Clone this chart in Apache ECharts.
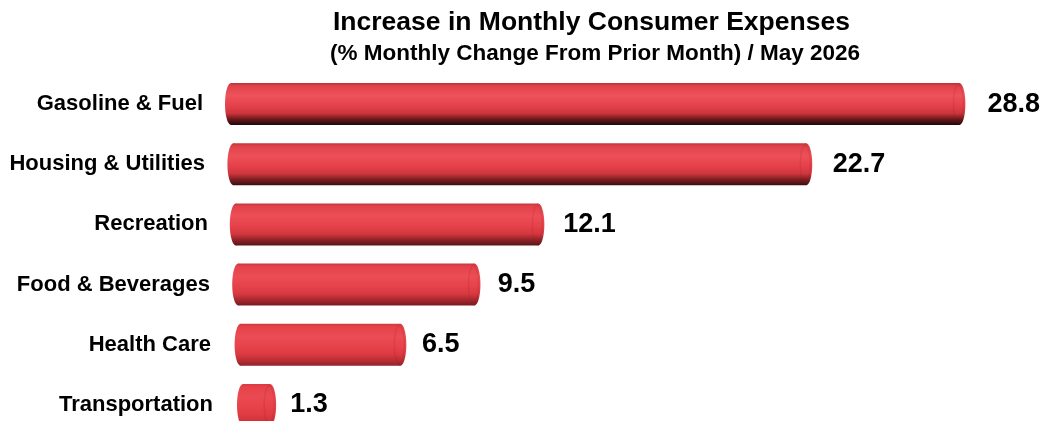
<!DOCTYPE html>
<html>
<head>
<meta charset="utf-8">
<script src="https://cdn.jsdelivr.net/npm/echarts@6/dist/echarts.min.js"></script>
<style>
html,body{margin:0;padding:0;background:#fff;}
#chart{width:1047px;height:421px;}
</style>
</head>
<body>
<div id="chart"></div>
<script>
var categories = ['Gasoline & Fuel', 'Housing & Utilities', 'Recreation', 'Food & Beverages', 'Health Care', 'Transportation'];
var values = [28.8, 22.7, 12.1, 9.5, 6.5, 1.3];
var titleText = 'Increase in Monthly Consumer Expenses';
var subtitleText = '(% Monthly Change From Prior Month) / May 2026';

var FONT = '"Liberation Sans", Arial, Helvetica, sans-serif';
var LBL = 22;

function hex(c){return [parseInt(c.substr(1,2),16),parseInt(c.substr(3,2),16),parseInt(c.substr(5,2),16)];}
function mix(a,b,t){var A=hex(a),B=hex(b);return 'rgb('+A.map(function(v,k){return Math.round(v+(B[k]-v)*t);}).join(',')+')';}

function barGradient(i){
  var t = Math.min(1, i/5);
  return new echarts.graphic.LinearGradient(0,0,0,1,[
    {offset:0, color: mix('#b8343a','#d8383f',t)},
    {offset:0.07, color: mix('#e0424a','#e5424a',t)},
    {offset:0.3, color: mix('#ee525a','#ec4a52',t)},
    {offset:0.55, color: mix('#e4414a','#e6424a',t)},
    {offset:0.72, color: mix('#cc343c','#e03c44',t)},
    {offset:0.86, color: mix('#6a181b','#d2343c',t)},
    {offset:1, color: mix('#1e0808','#b02a32',t)}
  ]);
}

var data = values.map(function(v,i){return [v, i];});

function richStyle(pad){return {padding:[0,pad,0,0], fontFamily:FONT, fontWeight:'bold', fontSize:LBL, color:'#000'};}

var chart = echarts.init(document.getElementById('chart'), null, {renderer:'canvas'});
chart.setOption({
  backgroundColor:'#ffffff',
  animation:false,
  title:[
    {text:titleText, left:328, top:4, textStyle:{fontFamily:FONT, fontWeight:'bold', fontSize:26.5, color:'#000'}},
    {text:subtitleText, left:325, top:37, textStyle:{fontFamily:FONT, fontWeight:'bold', fontSize:22.5, color:'#000'}}
  ],
  grid:{left:225, top:74, width:765, height:361, containLabel:false, outerBoundsMode:'none'},
  xAxis:{type:'value', min:0, max:30, show:false},
  yAxis:{type:'category', data:categories, inverse:true,
    axisLine:{show:false}, axisTick:{show:false}, splitLine:{show:false},
    axisLabel:{margin:12, fontFamily:FONT, fontWeight:'bold', fontSize:LBL, color:'#000',
      formatter:function(v,i){return '{r'+i+'|'+v+'}';},
      rich:{r0:richStyle(10), r1:richStyle(8), r2:richStyle(5), r3:richStyle(3), r4:richStyle(2), r5:richStyle(0)}
    }
  },
  series:[{
    type:'custom',
    encode:{x:0, y:1},
    data:data,
    clip:false,
    renderItem:function(params, api){
      var i = params.dataIndex;
      var v = api.value(0);
      var p0 = api.coord([0, api.value(1)]);
      var p1 = api.coord([v, api.value(1)]);
      var shift = i*2.4;
      var h = 42;
      var rx = 6;
      var x0 = p0[0] + shift + rx;
      var x1 = p1[0] + shift;
      var cy = p0[1];
      var grad = barGradient(i);
      return {
        type:'group',
        children:[
          {type:'ellipse', shape:{cx:x0, cy:cy, rx:rx, ry:h/2}, style:{fill:grad}},
          {type:'rect', shape:{x:x0, y:cy-h/2, width:Math.max(0,x1-x0), height:h}, style:{fill:grad}},
          {type:'ellipse', shape:{cx:x1, cy:cy, rx:rx, ry:h/2}, style:{fill:grad}},
          {type:'ellipse', shape:{cx:x1-1, cy:cy, rx:rx-1, ry:h/2-2}, style:{fill:'none', stroke:'rgba(150,25,30,0.15)', lineWidth:1.5}},
          {type:'text', style:{text:String(v), x:x1+rx+22-1.6*i, y:cy, verticalAlign:'middle', align:'left',
            font:'bold 27px '+FONT, fill:'#000'}}
        ]
      };
    }
  }]
});
</script>
</body>
</html>
